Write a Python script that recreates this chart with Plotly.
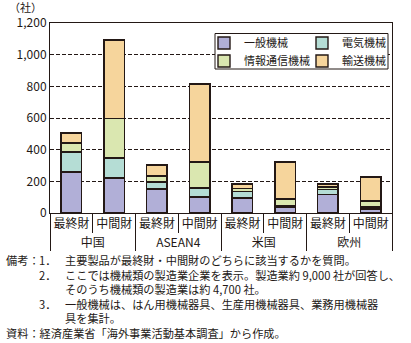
import plotly.graph_objects as go

regions = ["中国", "ASEAN4", "米国", "欧州"]
goods = ["最終財", "中間財"]
series_names = ["一般機械", "電気機械", "情報通信機械", "輸送機械"]
general = [259, 221, 152, 100, 96, 37, 115, 26]
electric = [126, 126, 44, 58, 38, 7, 32, 13]
info = [57, 249, 38, 164, 19, 44, 17, 38]
transport = [63, 497, 69, 493, 30, 234, 19, 150]
y_ticks = [0, 200, 400, 600, 800, 1000, 1200]

colors = ["#b1afd7", "#b5ddd5", "#dae7b0", "#f6d59c"]
edge = "#231815"
FONT = "Noto Sans CJK JP"

W, H = 411, 343
ML, MR, MT, MB = 50, 19, 23, 130
PW, PH = W - ML - MR, H - MT - MB


def px(x):
    return (x - ML) / PW


def py(y):
    return (H - MB - y) / PH


x_outer = [r for r in regions for _ in goods]
x_inner = goods * len(regions)

fig = go.Figure()
values = [general, electric, info, transport]
legends = ["legend", "legend", "legend2", "legend2"]
for name, vals, col, lg in zip(series_names, values, colors, legends):
    fig.add_trace(go.Bar(
        x=[x_outer, x_inner], y=vals, name=name,
        marker=dict(color=col, line=dict(color=edge, width=1.4)),
        legend=lg,
    ))

leg_common = dict(
    orientation="h", xanchor="left", yanchor="middle", traceorder="normal",
    bgcolor="rgba(0,0,0,0)", borderwidth=0, entrywidth=53,
    font=dict(size=11), itemwidth=30,
)

fig.update_layout(
    width=W, height=H,
    margin=dict(l=ML, r=MR, t=MT, b=MB, autoexpand=False),
    barmode="stack", bargap=0.52,
    paper_bgcolor="white", plot_bgcolor="white",
    font=dict(family=FONT, size=12, color="#231815"),
    xaxis=dict(
        type="multicategory", showline=True, linecolor=edge, linewidth=1,
        mirror=True, ticks="outside", tickson="boundaries", ticklen=19,
        tickcolor=edge, tickwidth=1, showdividers=True, dividercolor=edge,
        dividerwidth=1, tickfont=dict(size=12), showgrid=False, tickangle=0,
    ),
    yaxis=dict(
        range=[0, 1200], tickvals=y_ticks, tickformat=",", showline=True,
        linecolor=edge, linewidth=1, mirror=True, showgrid=True,
        gridcolor=edge, gridwidth=1, griddash="4px,2px", zeroline=False,
        ticks="", tickfont=dict(size=12),
    ),
    legend=dict(x=px(204), y=py(43), **leg_common),
    legend2=dict(x=px(204), y=py(61), **leg_common),
    showlegend=True,
)

fig.add_shape(type="rect", xref="paper", yref="paper",
              x0=px(215), x1=px(388), y0=py(69), y1=py(33.5),
              fillcolor="white", line=dict(color=edge, width=1), layer="above")

ann = []


def note(text, x, y, size=11.2):
    ann.append(dict(text=text, x=px(x), y=py(y), xref="paper", yref="paper",
                    xanchor="left", yanchor="top", align="left",
                    showarrow=False, borderpad=0,
                    font=dict(size=size, family=FONT, color="#231815")))


ann.append(dict(text="（社）", x=px(44), y=py(7), xref="paper", yref="paper",
                xanchor="right", yanchor="middle", showarrow=False,
                font=dict(size=11, family=FONT, color="#231815")))
top = 250.5
note("備考：", 5, top)
note("1．<br>2．<br><br>3．", 38, top)
note("主要製品が最終財・中間財のどちらに該当するかを質問。<br>"
     "ここでは機械類の製造業企業を表示。製造業約 9,000 社が回答し、<br>"
     "そのうち機械類の製造業は約 4,700 社。<br>"
     "一般機械は、はん用機械器具、生産用機械器具、業務用機械器<br>"
     "具を集計。", 64, top)
note("資料：経済産業省「海外事業活動基本調査」から作成。", 5, 324)
fig.update_layout(annotations=ann)

fig.write_html("out.html")
